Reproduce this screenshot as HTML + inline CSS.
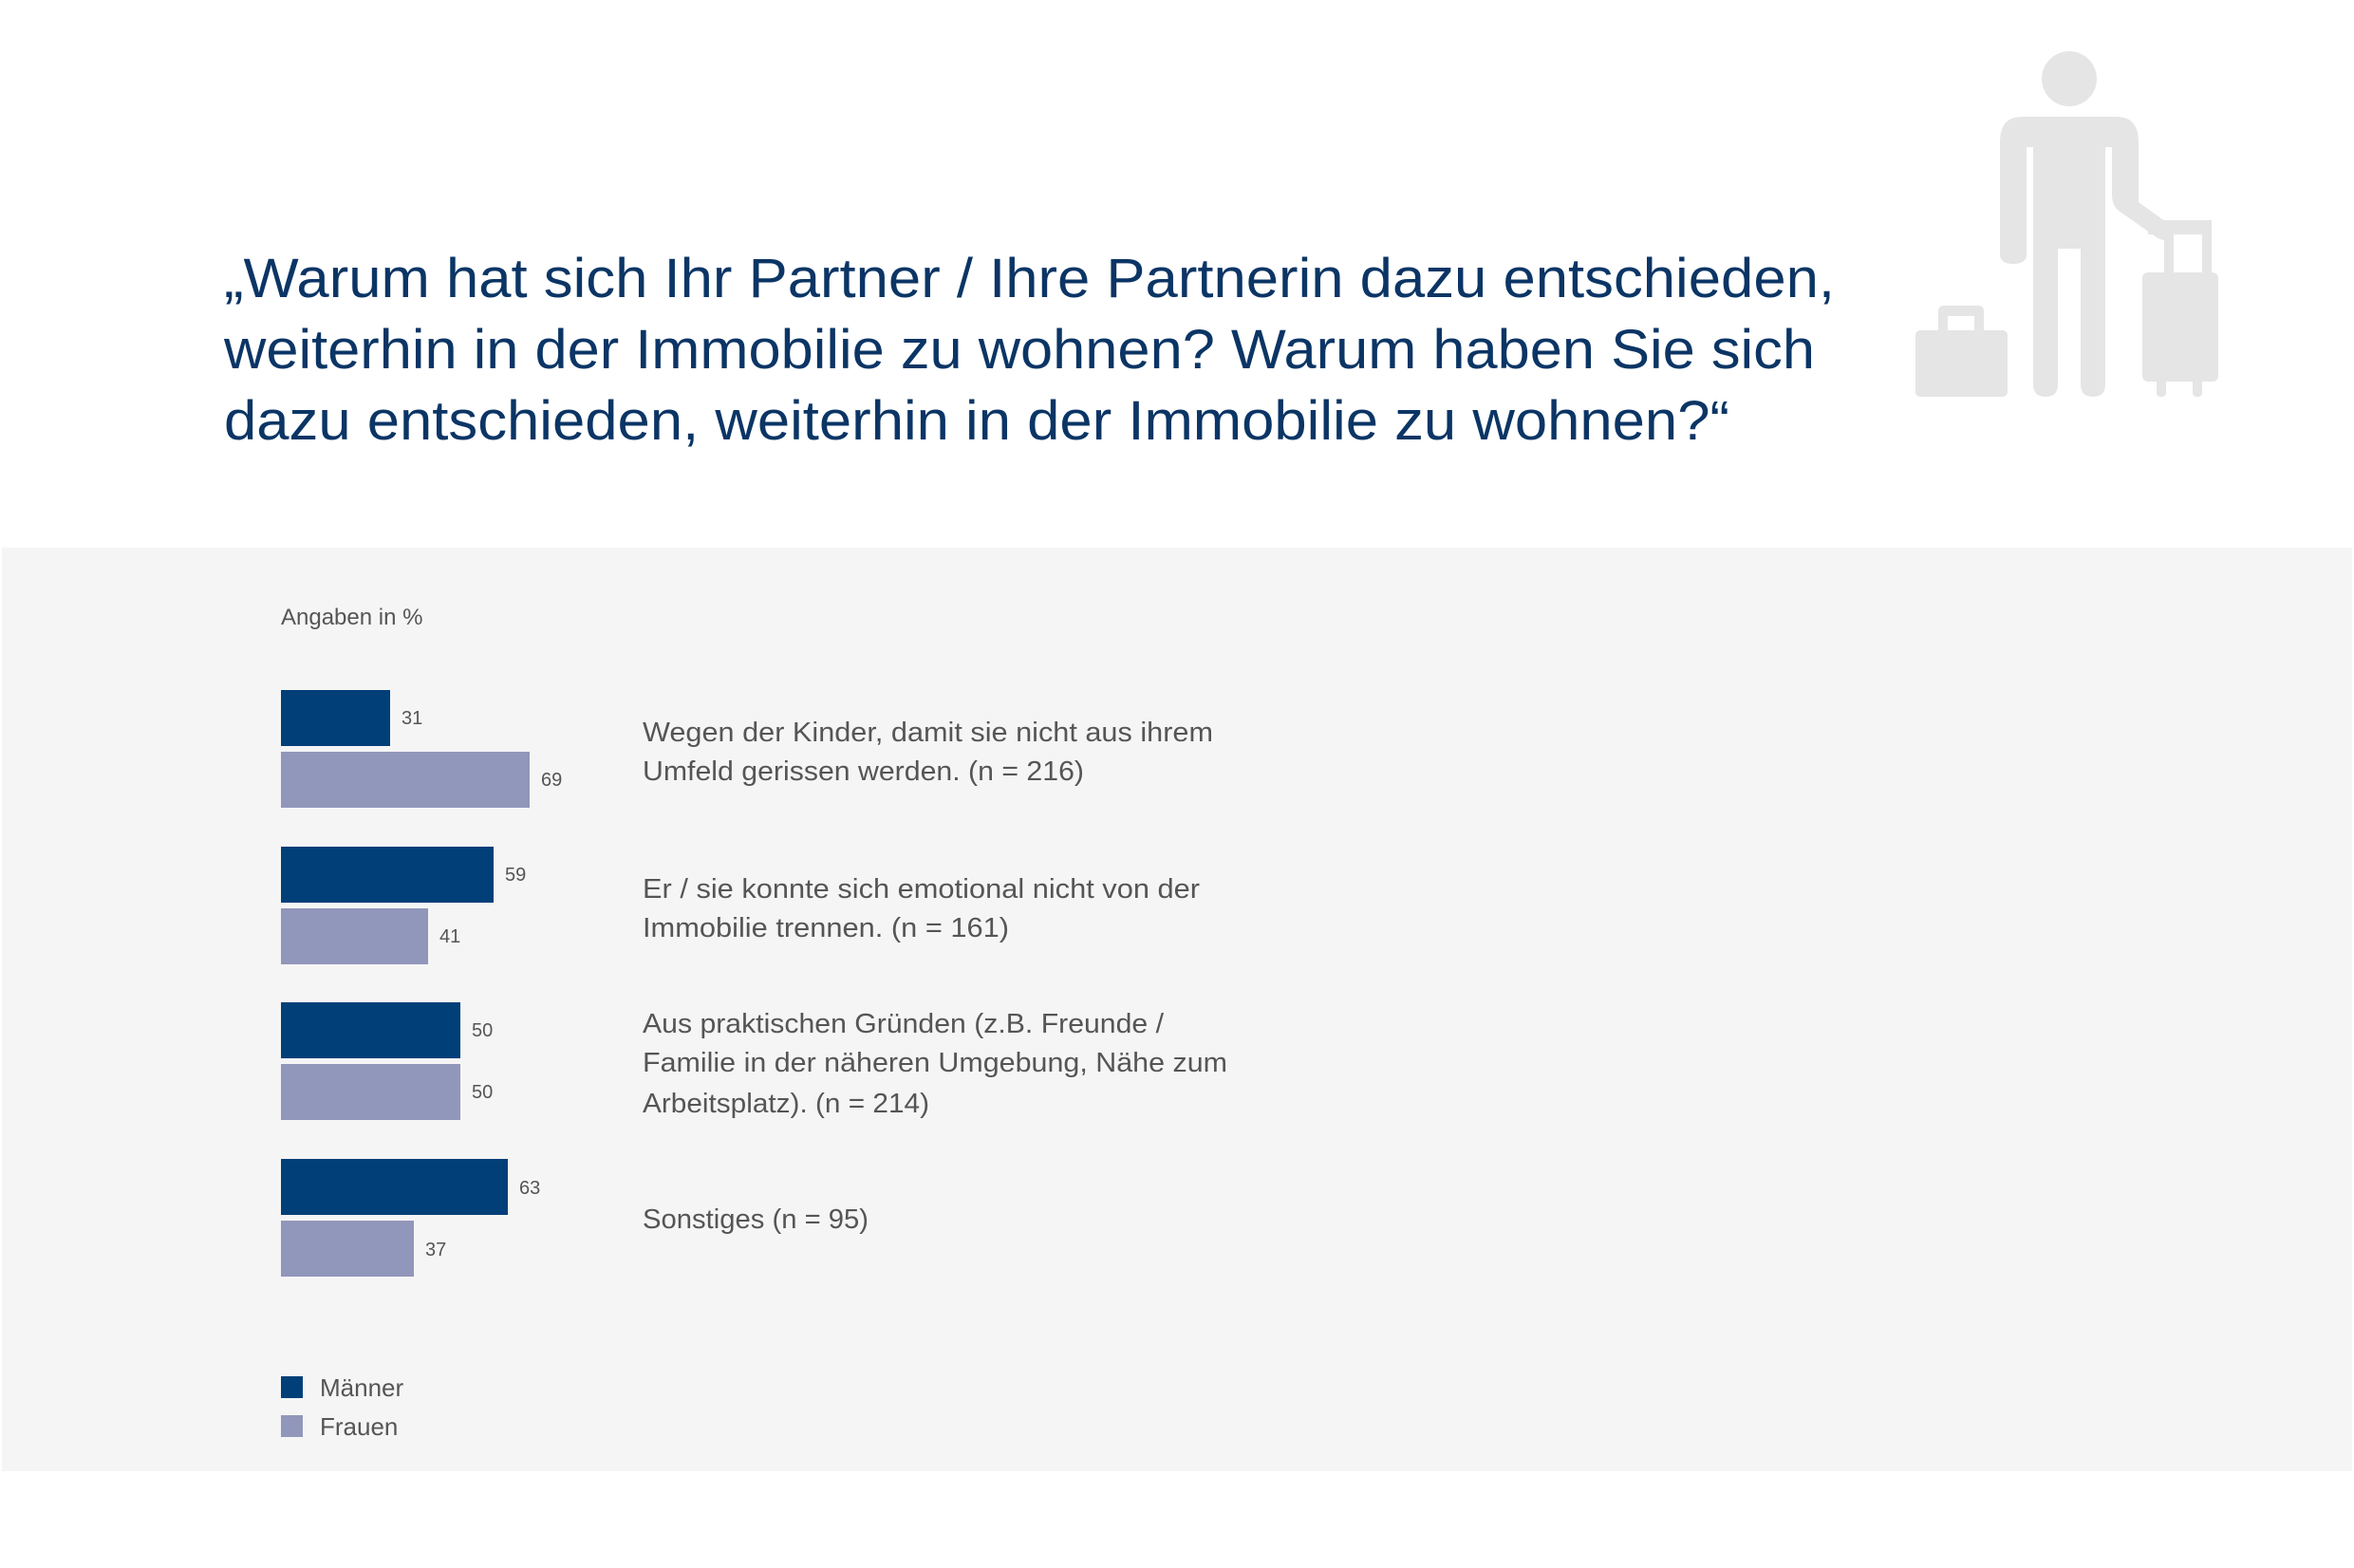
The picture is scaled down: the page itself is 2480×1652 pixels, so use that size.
<!DOCTYPE html>
<html><head><meta charset="utf-8"><style>
html,body{margin:0;padding:0;background:#fff}
svg{display:block}
text{font-family:"Liberation Sans",sans-serif}
</style></head><body>
<svg width="2480" height="1652" viewBox="0 0 2480 1652" xmlns="http://www.w3.org/2000/svg">
<rect width="2480" height="1652" fill="#fff"/>
<rect x="2" y="577" width="2476" height="973" fill="#f5f5f5"/>
<g fill="#0b3565" font-size="58">
<text x="236" y="313" textLength="1697" lengthAdjust="spacingAndGlyphs">„Warum hat sich Ihr Partner / Ihre Partnerin dazu entschieden,</text>
<text x="236" y="388" textLength="1676" lengthAdjust="spacingAndGlyphs">weiterhin in der Immobilie zu wohnen? Warum haben Sie sich</text>
<text x="236" y="463" textLength="1586" lengthAdjust="spacingAndGlyphs">dazu entschieden, weiterhin in der Immobilie zu wohnen?“</text>
</g>
<g fill="#e5e5e5">
<circle cx="2180" cy="83" r="29"/>
<path d="M2130 123 H2230 Q2253 123 2253 150 V213 L2285 236 Q2292 243 2288 250 Q2282 256 2272 250 L2232 222 Q2225 216 2225 205 V155 H2218 V405 Q2218 418 2205 418 Q2192 418 2192 405 V262 H2168 V405 Q2168 418 2155 418 Q2142 418 2142 405 V155 H2135 V268 Q2135 278 2121 278 Q2107 278 2107 268 V150 Q2107 123 2130 123 Z"/>
<rect x="2263" y="232" width="67" height="15"/>
<rect x="2280" y="240" width="10" height="50"/>
<rect x="2320" y="240" width="10" height="50"/>
<rect x="2257" y="287" width="80" height="115" rx="6"/>
<rect x="2272" y="395" width="10" height="23" rx="4"/>
<rect x="2310" y="395" width="10" height="23" rx="4"/>
<rect x="2018" y="348" width="97" height="70" rx="5"/>
<path d="M2048 322 H2084 Q2090 322 2090 328 V350 H2080 V333 H2052 V350 H2042 V328 Q2042 322 2048 322 Z"/>
</g>
<text x="296" y="658" font-size="24" fill="#555">Angaben in %</text>
<g>
<rect x="296" y="727" width="115" height="59" fill="#003f78"/>
<rect x="296" y="792" width="262" height="59" fill="#9196bb"/>
<rect x="296" y="892" width="224" height="59" fill="#003f78"/>
<rect x="296" y="957" width="155" height="59" fill="#9196bb"/>
<rect x="296" y="1056" width="189" height="59" fill="#003f78"/>
<rect x="296" y="1121" width="189" height="59" fill="#9196bb"/>
<rect x="296" y="1221" width="239" height="59" fill="#003f78"/>
<rect x="296" y="1286" width="140" height="59" fill="#9196bb"/>
</g>
<g font-size="20" fill="#555">
<text x="423" y="763">31</text>
<text x="570" y="828">69</text>
<text x="532" y="928">59</text>
<text x="463" y="993">41</text>
<text x="497" y="1092">50</text>
<text x="497" y="1157">50</text>
<text x="547" y="1258">63</text>
<text x="448" y="1323">37</text>
</g>
<g font-size="29" fill="#555">
<text x="677" y="781" textLength="601" lengthAdjust="spacingAndGlyphs">Wegen der Kinder, damit sie nicht aus ihrem</text>
<text x="677" y="822" textLength="465" lengthAdjust="spacingAndGlyphs">Umfeld gerissen werden. (n = 216)</text>
<text x="677" y="946" textLength="587" lengthAdjust="spacingAndGlyphs">Er / sie konnte sich emotional nicht von der</text>
<text x="677" y="987" textLength="386" lengthAdjust="spacingAndGlyphs">Immobilie trennen. (n = 161)</text>
<text x="677" y="1088" textLength="549" lengthAdjust="spacingAndGlyphs">Aus praktischen Gründen (z.B. Freunde /</text>
<text x="677" y="1129" textLength="616" lengthAdjust="spacingAndGlyphs">Familie in der näheren Umgebung, Nähe zum</text>
<text x="677" y="1172" textLength="302" lengthAdjust="spacingAndGlyphs">Arbeitsplatz). (n = 214)</text>
<text x="677" y="1294" textLength="238" lengthAdjust="spacingAndGlyphs">Sonstiges (n = 95)</text>
</g>
<rect x="296" y="1450" width="23" height="23" fill="#003f78"/>
<rect x="296" y="1491" width="23" height="23" fill="#9196bb"/>
<g font-size="26" fill="#555">
<text x="337" y="1471">Männer</text>
<text x="337" y="1512">Frauen</text>
</g>
</svg>
</body></html>
